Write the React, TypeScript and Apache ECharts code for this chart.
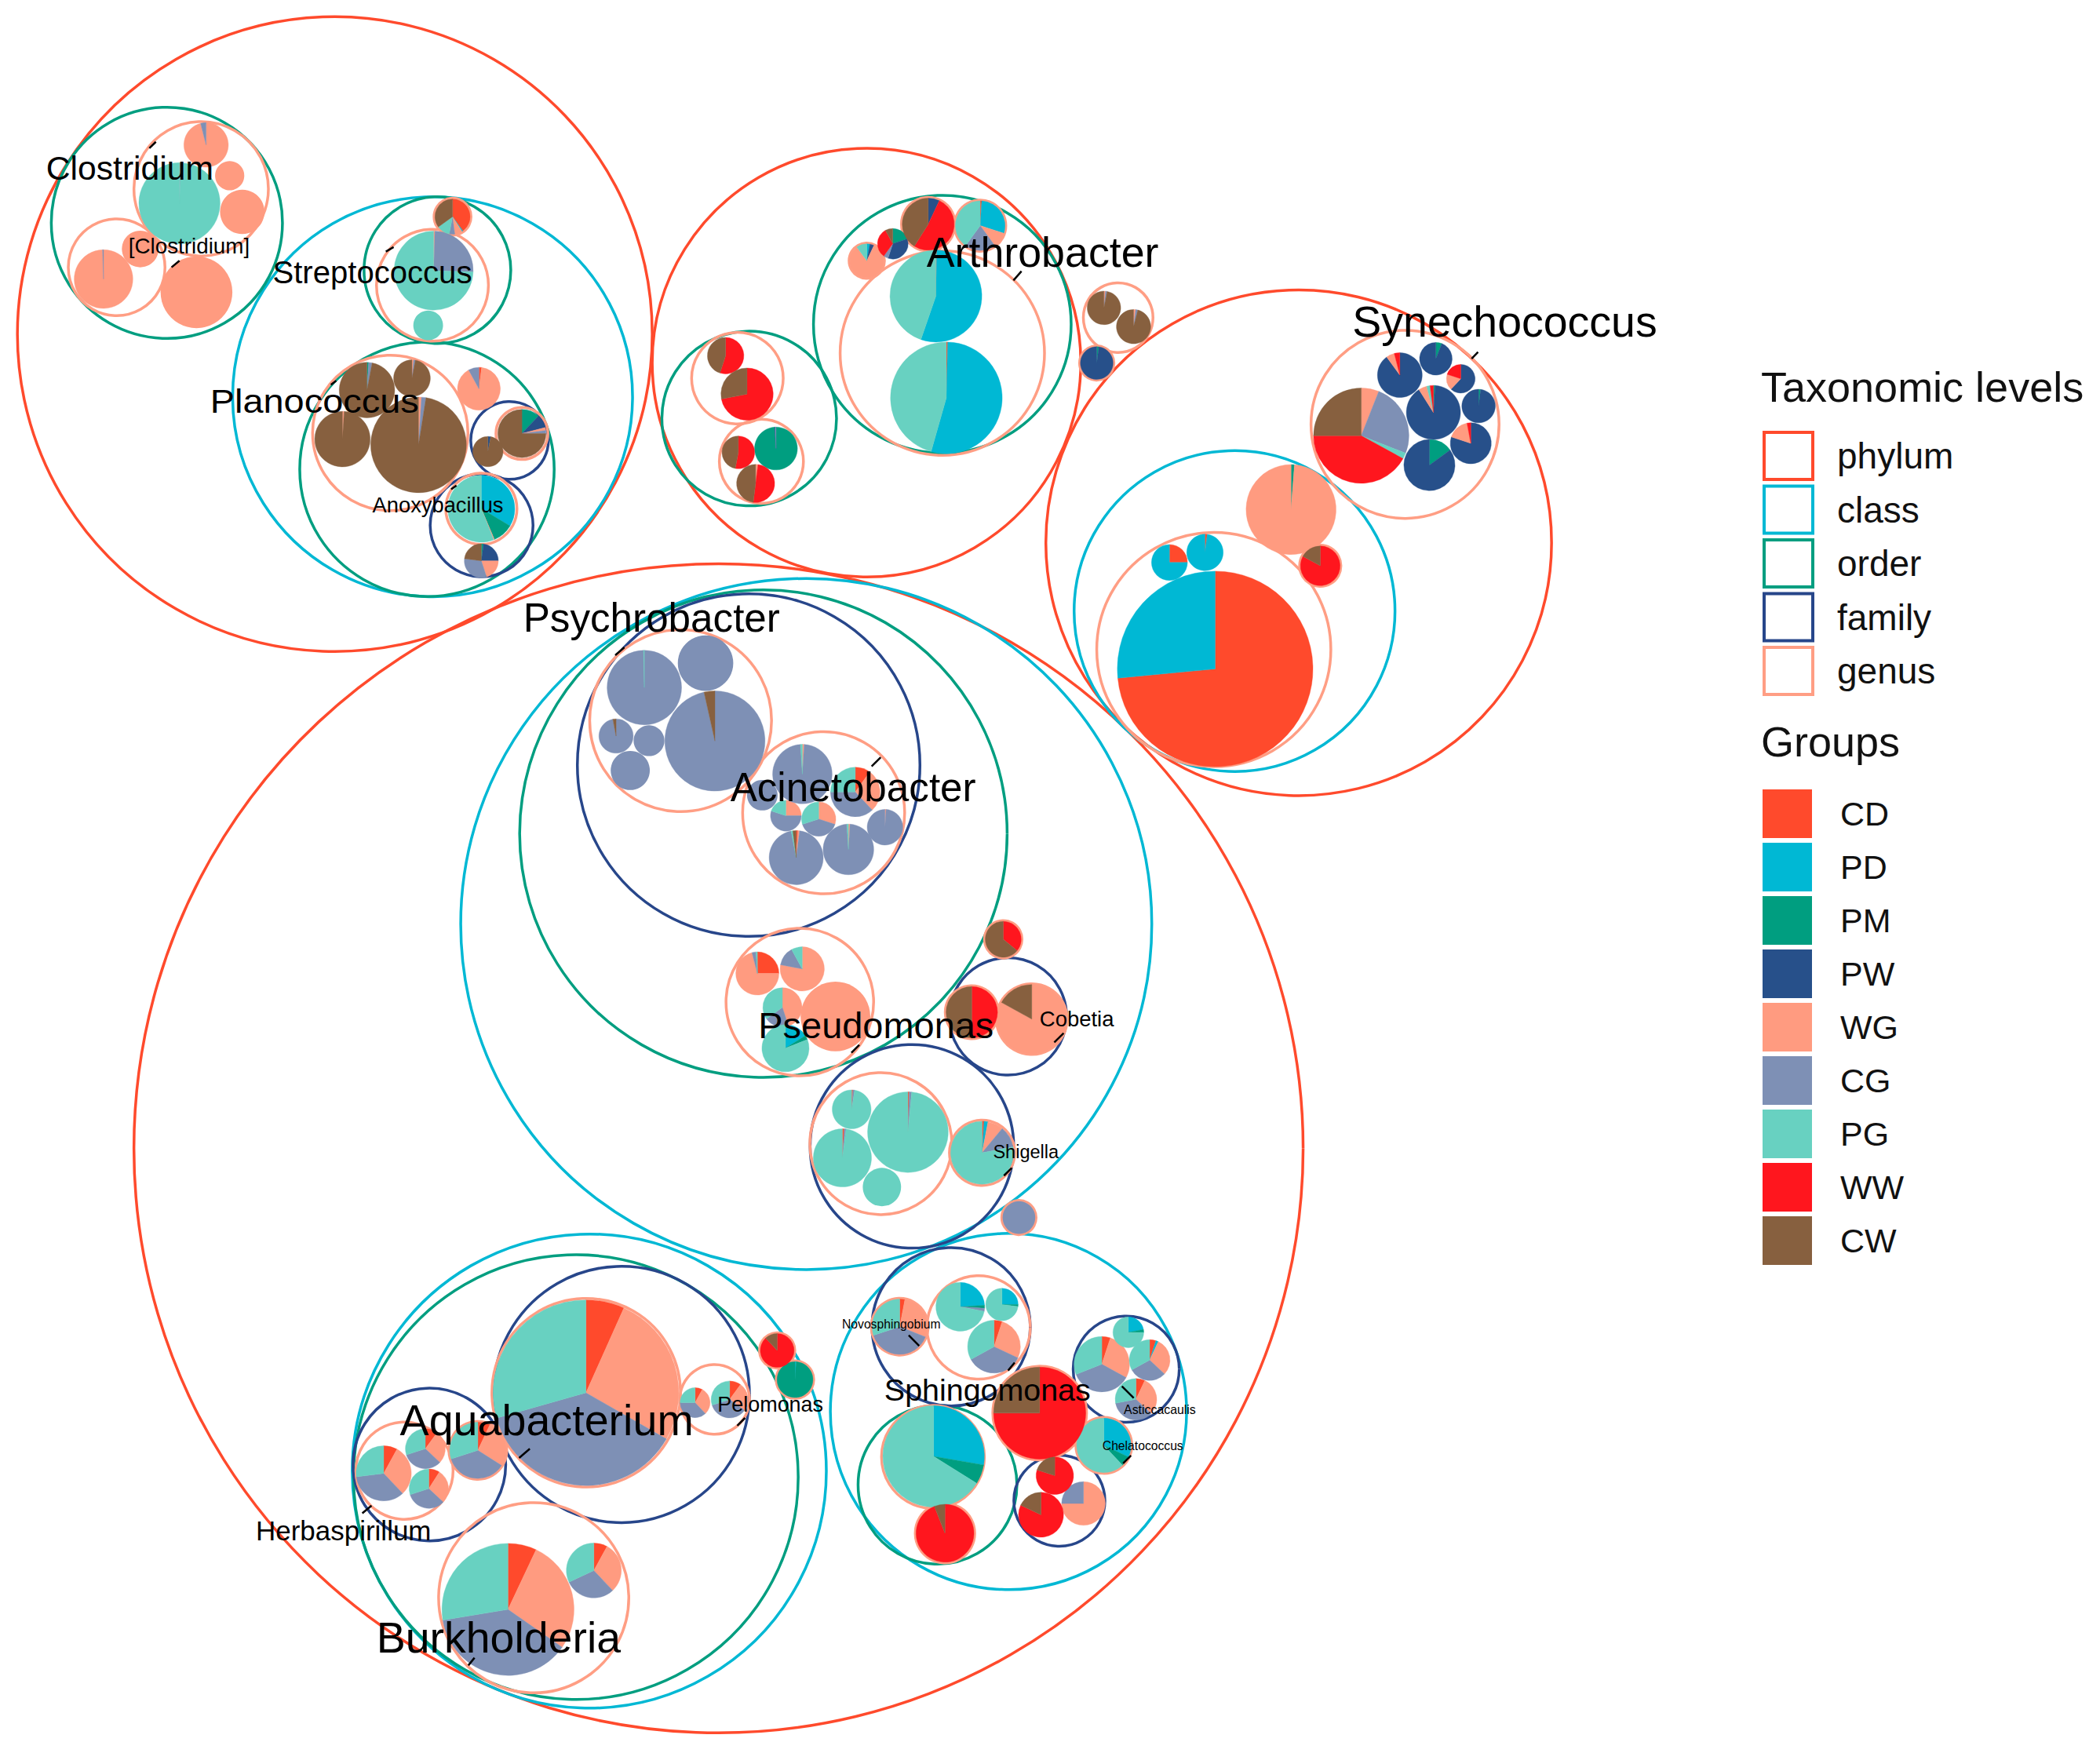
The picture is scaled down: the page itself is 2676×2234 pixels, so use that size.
import React, { useEffect, useRef } from "react";
import * as echarts from "echarts";

const W = 2676;
const H = 2234;
const X_MAX = 1568;
const Y_MAX = 1309;
const FONT = "'Liberation Sans', Arial, Helvetica, sans-serif";

// ---------- groups & taxonomic levels ----------
const groups = ["CD", "PD", "PM", "PW", "WG", "CG", "PG", "WW", "CW"];
const groupColors = ["#FF4A2C", "#00B8D4", "#009E80", "#27508A", "#FF9B80", "#7E90B5", "#68D1C1", "#FF161E", "#87603F"];
const levels = ["phylum", "class", "order", "family", "genus"];
const levelColors = ["#FF4A2C", "#00B8D4", "#009E80", "#27468A", "#FF9E84"];

// ---------- circles [x, y, r] in chart units ----------
const phylumCircles = [
  [250, 249.5, 237],
  [647, 270, 160],
  [969.7, 405.3, 188.8],
  [536.5, 857.5, 436.5],
];
const classCircles = [
  [323, 296.3, 149.3],
  [921.8, 456.3, 119.8],
  [602, 690, 258],
  [440, 1098.5, 177],
  [753, 1054, 133],
];
const orderCircles = [
  [124.6, 166.4, 86.3],
  [326.6, 201.7, 54.8],
  [318.8, 350.4, 95],
  [559.4, 312.5, 65.2],
  [703.6, 242.1, 96.2],
  [570, 622.5, 182],
  [430, 1103, 166],
  [700, 1108.7, 59.3],
];
const familyCircles = [
  [380.5, 328.9, 29],
  [359.6, 392.3, 38.4],
  [559, 571.3, 127.9],
  [752.6, 759, 43.8],
  [680.9, 856, 76],
  [463.9, 1041.3, 95.7],
  [320.6, 1093.6, 57],
  [710.2, 990.7, 59.1],
  [791, 1120.6, 34],
  [840.9, 1022.4, 39.6],
];
const genusCircles = [
  [150.2, 141.0, 50.2],
  [87.1, 199.6, 36.1],
  [322.9, 213.0, 41.8],
  [291.4, 323.3, 58],
  [389.7, 323.7, 19.4],
  [359.4, 379.9, 26.6],
  [550.6, 282.4, 34.2],
  [568.5, 344.5, 31.4],
  [703.6, 263.7, 76.3],
  [834.9, 237.2, 26],
  [906.3, 485, 87.4],
  [1049.1, 316.9, 70.2],
  [508.2, 538.1, 67.9],
  [615, 606.9, 60.5],
  [597.2, 748.3, 55.1],
  [657.7, 854, 53],
  [733.3, 860.8, 24.4],
  [437.7, 1040, 70.4],
  [533.6, 1045, 26],
  [302, 1098.2, 36.3],
  [398.5, 1193.1, 71],
  [696.6, 1087.9, 38.4],
  [730.7, 991.2, 38.6],
  [337.9, 161.8, 13.8],
  [985.8, 422.5, 15.4],
  [818.9, 271.1, 12.8],
  [693.1, 167.4, 20.0],
  [731.9, 168.5, 19.1],
  [647.2, 194.7, 13.2],
  [725.6, 755.9, 19.8],
  [770.4, 761.0, 26.4],
  [749.1, 701.4, 14.0],
  [760.8, 909.2, 12.8],
  [580.3, 1008.4, 13.2],
  [593.6, 1030.2, 14.0],
  [356.8, 1083.0, 21.6],
  [705.6, 1144.9, 22.2],
  [776.3, 1055.2, 35.0],
  [824.2, 1079.3, 20.9],
  [671.8, 990.7, 21.2],
];

// ---------- pies [x, y, r, shares by group] ----------
const piesFirmicutes = [
  [134.0, 151.8, 30.3, { CG: 0.005, PG: 0.995 }],
  [153.9, 108.2, 16.6, { WG: 0.96, CG: 0.04 }],
  [171.5, 131.2, 10.9, { WG: 1 }],
  [180.9, 158.2, 16.6, { WG: 1 }],
  [77.3, 208.4, 21.9, { WG: 0.995, CG: 0.005 }],
  [104.7, 185.9, 13.7, { WG: 1 }],
  [146.7, 218.2, 26.8, { WG: 1 }],
  [323.8, 202.1, 29.5, { WG: 0.005, CG: 0.25, PG: 0.745 }],
  [319.7, 243.0, 11.1, { PG: 1 }],
  [337.9, 161.8, 13.1, { CD: 0.4, PD: 0.01, WG: 0.07, CG: 0.05, PG: 0.12, CW: 0.35 }],
  [312.5, 332.2, 35.7, { WG: 0.01, CG: 0.015, CW: 0.975 }],
  [255.7, 327.9, 20.7, { WG: 0.01, CW: 0.99 }],
  [274.0, 291.3, 20.7, { PM: 0.01, CG: 0.02, CW: 0.97 }],
  [307.6, 282.4, 13.7, { WG: 0.015, CG: 0.015, CW: 0.97 }],
  [357.6, 290.3, 16.0, { CD: 0.02, WG: 0.9, CG: 0.08 }],
  [389.7, 323.7, 18.0, { PM: 0.12, PW: 0.09, WG: 0.02, CG: 0.02, CW: 0.75 }],
  [364.3, 337.2, 11.3, { PW: 0.03, CW: 0.97 }],
  [359.4, 379.9, 25.0, { PD: 0.336, PM: 0.1, WG: 0.004, PG: 0.56 }],
  [359.4, 418.8, 12.7, { PM: 0.02, PW: 0.23, WG: 0.2, CG: 0.32, CW: 0.23 }],
];
const piesActinobacteria = [
  [541.8, 265.6, 13.6, { WW: 0.55, CW: 0.45 }],
  [557.8, 294.3, 19.5, { WW: 0.72, CW: 0.28 }],
  [579.4, 334.9, 16.0, { PM: 0.99, PW: 0.005, CG: 0.005 }],
  [551.3, 337.8, 12.2, { WW: 0.53, CW: 0.47 }],
  [564.2, 361.0, 14.2, { WG: 0.02, WW: 0.5, CW: 0.48 }],
  [698.8, 221.1, 34.3, { CD: 0.003, PD: 0.55, PG: 0.447 }],
  [706.6, 297.1, 41.7, { CD: 0.004, PD: 0.54, PG: 0.456 }],
  [693.1, 167.4, 19.4, { PW: 0.07, WW: 0.52, CW: 0.41 }],
  [731.9, 168.5, 18.5, { CD: 0.01, PD: 0.29, WG: 0.1, CG: 0.2, PG: 0.4 }],
  [666.6, 182.0, 11.4, { PM: 0.2, PW: 0.35, CG: 0.05, WW: 0.32, CW: 0.08 }],
  [647.2, 194.7, 12.6, { PD: 0.03, PW: 0.04, WG: 0.83, PG: 0.1 }],
  [824.3, 229.9, 12.5, { WG: 0.015, CG: 0.015, CW: 0.97 }],
  [846.4, 243.9, 12.8, { WG: 0.02, CG: 0.02, CW: 0.96 }],
  [818.9, 271.1, 12.2, { PM: 0.02, PW: 0.98 }],
];
const piesCyanobacteria = [
  [907.3, 499.5, 73.0, { CD: 0.735, PD: 0.265 }],
  [873.2, 420.0, 13.4, { CD: 0.25, PD: 0.75 }],
  [899.7, 412.5, 13.6, { CD: 0.02, PD: 0.98 }],
  [964.0, 380.5, 33.6, { PM: 0.012, WG: 0.988 }],
  [985.8, 422.5, 14.8, { WW: 0.83, CW: 0.17 }],
  [1016.4, 325.3, 35.6, { WG: 0.06, CG: 0.25, PG: 0.02, WW: 0.42, CW: 0.25 }],
  [1045.2, 280.1, 16.7, { PW: 0.9, WG: 0.06, WW: 0.04 }],
  [1072.1, 267.9, 12.2, { PM: 0.06, PW: 0.94 }],
  [1090.7, 282.8, 10.7, { PW: 0.62, WG: 0.18, WW: 0.2 }],
  [1070.3, 308.0, 20.2, { PM: 0.01, PW: 0.9, WG: 0.05, PG: 0.02, WW: 0.02 }],
  [1104.0, 303.2, 12.5, { PM: 0.02, PW: 0.98 }],
  [1098.2, 331.0, 15.3, { PW: 0.8, WG: 0.17, WW: 0.03 }],
  [1067.3, 347.3, 19.1, { PM: 0.15, PW: 0.85 }],
];
const piesGamma = [
  [533.8, 553.3, 37.4, { CG: 0.965, CW: 0.035 }],
  [481.1, 513.4, 27.8, { CG: 0.997, PG: 0.003 }],
  [526.8, 495.2, 20.7, { CG: 1 }],
  [460.0, 549.6, 12.8, { CG: 0.97, CW: 0.03 }],
  [484.6, 553.1, 11.5, { CG: 1 }],
  [470.6, 575.3, 14.6, { CG: 1 }],
  [599.1, 578.0, 22.2, { WG: 0.01, CG: 0.98, PG: 0.01 }],
  [638.6, 591.4, 18.5, { CD: 0.1, WG: 0.28, CG: 0.37, PG: 0.25 }],
  [569.2, 593.8, 11.4, { CG: 1 }],
  [586.8, 609.1, 11.5, { WG: 0.25, CG: 0.55, PG: 0.2 }],
  [611.3, 611.6, 12.8, { WG: 0.3, CG: 0.4, PG: 0.3 }],
  [594.5, 640.4, 20.2, { CD: 0.01, WG: 0.01, CG: 0.95, PG: 0.01, CW: 0.02 }],
  [633.5, 634.3, 18.9, { WG: 0.01, CG: 0.98, PG: 0.01 }],
  [660.8, 617.7, 13.3, { WG: 0.01, CG: 0.99 }],
  [565.5, 726.9, 16.1, { CD: 0.25, WG: 0.71, CG: 0.03, PG: 0.01 }],
  [599.0, 723.5, 16.5, { WG: 0.78, CG: 0.14, PG: 0.08 }],
  [623.8, 759.0, 26.0, { WG: 1 }],
  [584.2, 752.2, 14.6, { WG: 0.45, CG: 0.2, PG: 0.35 }],
  [586.5, 782.7, 17.6, { PD: 0.16, PM: 0.03, PG: 0.81 }],
  [725.6, 755.9, 19.2, { WW: 0.5, CW: 0.5 }],
  [770.4, 761.0, 25.8, { WG: 0.83, CW: 0.17 }],
  [749.1, 701.4, 13.4, { WW: 0.36, CW: 0.64 }],
  [677.9, 845.4, 30.1, { CD: 0.005, CG: 0.01, PG: 0.985 }],
  [635.9, 828.4, 14.5, { CD: 0.01, CG: 0.015, PG: 0.975 }],
  [629.0, 864.6, 21.7, { CD: 0.01, CG: 0.01, PG: 0.98 }],
  [658.5, 886.4, 14.3, { PG: 1 }],
  [733.3, 860.8, 23.5, { CD: 0.01, PD: 0.02, WG: 0.08, CG: 0.11, PG: 0.78 }],
  [760.8, 909.2, 12.2, { CG: 1 }],
];
const piesBeta = [
  [437.5, 1040.0, 69.3, { CD: 0.067, WG: 0.266, CG: 0.373, PG: 0.294 }],
  [519.0, 1047.4, 11.2, { CD: 0.08, WG: 0.3, CG: 0.37, PG: 0.25 }],
  [544.8, 1045.0, 13.8, { CD: 0.1, WG: 0.25, CG: 0.35, PG: 0.3 }],
  [286.5, 1100.2, 20.6, { CD: 0.08, WG: 0.3, CG: 0.35, PG: 0.27 }],
  [317.6, 1081.8, 14.9, { CD: 0.1, WG: 0.27, CG: 0.33, PG: 0.3 }],
  [320.2, 1111.6, 14.7, { CD: 0.09, WG: 0.28, CG: 0.33, PG: 0.3 }],
  [356.8, 1083.0, 21.0, { CD: 0.07, WG: 0.27, CG: 0.36, PG: 0.3 }],
  [379.3, 1201.8, 49.3, { CD: 0.07, WG: 0.277, CG: 0.377, PG: 0.276 }],
  [443.4, 1172.7, 20.5, { CD: 0.08, WG: 0.3, CG: 0.3, PG: 0.32 }],
  [580.3, 1008.4, 12.6, { WW: 0.88, CW: 0.12 }],
  [593.6, 1030.2, 13.4, { PD: 0.01, PM: 0.99 }],
];
const piesAlpha = [
  [671.8, 990.7, 20.6, { CD: 0.03, WG: 0.28, CG: 0.39, PG: 0.3 }],
  [717.0, 975.8, 18.2, { PD: 0.24, PM: 0.02, CG: 0.02, PG: 0.72 }],
  [748.1, 974.1, 12.1, { PD: 0.25, PM: 0.02, PG: 0.73 }],
  [742.2, 1005.6, 19.7, { CD: 0.05, WG: 0.27, CG: 0.35, PG: 0.33 }],
  [697.1, 1087.5, 37.9, { PD: 0.277, PM: 0.062, PG: 0.661 }],
  [705.6, 1144.9, 21.6, { WW: 0.94, CW: 0.06 }],
  [776.3, 1055.2, 34.4, { WW: 0.75, CW: 0.25 }],
  [787.6, 1101.9, 14.0, { WW: 0.8, CW: 0.2 }],
  [777.3, 1131.1, 16.8, { WW: 0.82, CW: 0.18 }],
  [809.0, 1122.7, 16.3, { WG: 0.75, CG: 0.25 }],
  [842.5, 994.9, 11.5, { PD: 0.22, PM: 0.03, PG: 0.75 }],
  [822.7, 1018.7, 20.7, { CD: 0.05, WG: 0.28, CG: 0.36, PG: 0.31 }],
  [858.4, 1015.6, 15.2, { CD: 0.05, PD: 0.02, WG: 0.3, CG: 0.3, PG: 0.33 }],
  [848.2, 1044.9, 15.5, { CD: 0.07, WG: 0.3, CG: 0.35, PG: 0.28 }],
  [824.2, 1079.3, 20.3, { PD: 0.32, PM: 0.06, PG: 0.62 }],
];

// ---------- genus labels ----------
const labelNames = [
  "Clostridium", "[Clostridium]", "Streptococcus", "Planococcus", "Anoxybacillus",
  "Arthrobacter", "Synechococcus", "Psychrobacter", "Acinetobacter", "Pseudomonas",
  "Cobetia", "Shigella", "Aquabacterium", "Pelomonas", "Herbaspirillum",
  "Burkholderia", "Sphingomonas", "Novosphingobium", "Asticcacaulis", "Chelatococcus",
];
const labelX = [96.9, 141.2, 278, 234.8, 327, 778.5, 1123.5, 486.5, 637, 654.1, 804, 766, 408.2, 575.2, 256.5, 372.3, 737.3, 665.5, 866, 853.3];
const labelY = [125.4, 183.6, 203.3, 299.5, 376.9, 187.9, 240.1, 461.5, 587.9, 765.6, 760.8, 860.4, 1060.5, 1049, 1142.6, 1223, 1037.5, 988.7, 1052.7, 1079.5];
const labelSize = [25, 16.3, 23.5, 25, 16, 31.5, 32.5, 30, 30, 27.5, 16.1, 13.8, 32.6, 15.8, 20.5, 32.5, 23.1, 9.2, 9.3, 9.2];
const labelStretch = [1, 1, 1, 1.1, 1, 1, 1, 1, 1, 1, 1, 1, 1, 1, 1, 1, 1, 1, 1, 1];
const labelTicks = [
  [111.5, 110.7, 116.4, 105.9],
  [128.1, 199.6, 134.0, 194.7],
  [288.1, 187.9, 293.9, 184.5],
  [247.1, 287.3, 251.0, 284.4],
  [336.9, 365.4, 340.8, 362.5],
  [756.7, 209.4, 762.7, 202.5],
  [1098.8, 267.8, 1103.6, 262.9],
  [459.4, 489.3, 466.2, 483.4],
  [650.8, 572.3, 657.6, 565.5],
  [635.7, 786.1, 641.6, 780.3],
  [787.2, 778.3, 794.2, 771.5],
  [749.6, 877.9, 755.5, 872.1],
  [387.6, 1088.7, 395.6, 1081.8],
  [550.5, 1064.6, 556.3, 1058.8],
  [270.5, 1130.0, 277.4, 1124.3],
  [349.7, 1243.6, 354.3, 1237.9],
  [752.7, 1023.4, 757.6, 1017.5],
  [678.5, 997.0, 686.3, 1004.9],
  [837.7, 1035.1, 846.5, 1043.9],
  [838.6, 1092.7, 844.5, 1086.9],
];

const allPies: any[] = [
  ...piesFirmicutes, ...piesActinobacteria, ...piesCyanobacteria,
  ...piesGamma, ...piesBeta, ...piesAlpha,
];

function sectorsFor(g: string) {
  const out: number[][] = [];
  allPies.forEach(([x, y, r, s]: any) => {
    const total = groups.reduce((a, k) => a + (s[k] || 0), 0);
    let cum = 0;
    groups.forEach((k) => {
      const v = (s[k] || 0) / total;
      if (k === g && v > 0) out.push([x, y, r, cum, cum + v]);
      cum += v;
    });
  });
  return out;
}

function circleSeries(name: string, color: string, data: number[][]) {
  return {
    type: "custom",
    name,
    coordinateSystem: "cartesian2d",
    data,
    encode: { x: 0, y: 1 },
    itemStyle: { color },
    silent: true,
    clip: false,
    z: 2,
    renderItem: (params: any, api: any) => {
      const c = api.coord([api.value(0), api.value(1)]);
      const r = api.size([api.value(2), 0])[0];
      return {
        type: "circle",
        shape: { cx: c[0], cy: c[1], r },
        style: { fill: "none", stroke: color, lineWidth: 3.5 },
      };
    },
  };
}

function groupSeries(name: string, color: string) {
  return {
    type: "custom",
    name,
    coordinateSystem: "cartesian2d",
    data: sectorsFor(name),
    encode: { x: 0, y: 1 },
    itemStyle: { color },
    silent: true,
    clip: false,
    z: 3,
    renderItem: (params: any, api: any) => {
      const c = api.coord([api.value(0), api.value(1)]);
      const r = api.size([api.value(2), 0])[0];
      const s = api.value(3);
      const e = api.value(4);
      if (e - s > 0.9999) {
        return { type: "circle", shape: { cx: c[0], cy: c[1], r }, style: { fill: color } };
      }
      return {
        type: "sector",
        shape: {
          cx: c[0], cy: c[1], r0: 0, r,
          startAngle: -Math.PI / 2 + 2 * Math.PI * s,
          endAngle: -Math.PI / 2 + 2 * Math.PI * e,
          clockwise: true,
        },
        style: { fill: color, stroke: color, lineWidth: 0.4 },
      };
    },
  };
}

const labelSeries = {
  type: "custom",
  name: "labels",
  coordinateSystem: "cartesian2d",
  data: labelX.map((x, i) => [x, labelY[i]]),
  encode: { x: 0, y: 1 },
  silent: true,
  clip: false,
  z: 5,
  renderItem: (params: any, api: any) => {
    const i = params.dataIndex;
    const c = api.coord([api.value(0), api.value(1)]);
    const k = api.size([1, 0])[0];
    return {
      type: "text",
      x: c[0],
      y: c[1],
      scaleX: labelStretch[i],
      style: {
        text: labelNames[i],
        fontSize: labelSize[i] * k,
        fontFamily: FONT,
        fill: "#000",
        align: "center",
        verticalAlign: "middle",
      },
    };
  },
};

const tickSeries = {
  type: "custom",
  name: "ticks",
  coordinateSystem: "cartesian2d",
  data: labelTicks,
  encode: { x: 0, y: 1 },
  silent: true,
  clip: false,
  z: 5,
  renderItem: (params: any, api: any) => {
    const a = api.coord([api.value(0), api.value(1)]);
    const b = api.coord([api.value(2), api.value(3)]);
    return {
      type: "line",
      shape: { x1: a[0], y1: a[1], x2: b[0], y2: b[1] },
      style: { stroke: "#000", lineWidth: 2.5 },
    };
  },
};

const option: any = {
  animation: false,
  backgroundColor: "#fff",
  grid: { left: 0, right: 0, top: 0, bottom: 0 },
  xAxis: { type: "value", min: 0, max: X_MAX, show: false },
  yAxis: { type: "value", min: 0, max: Y_MAX, inverse: true, show: false },
  title: [
    {
      text: "Taxonomic levels",
      left: 2244,
      top: 466,
      padding: 0,
      textStyle: { fontSize: 54, fontWeight: "normal", color: "#111", fontFamily: FONT },
    },
    {
      text: "Groups",
      left: 2244,
      top: 918,
      padding: 0,
      textStyle: { fontSize: 54, fontWeight: "normal", color: "#111", fontFamily: FONT },
    },
  ],
  legend: [
    {
      data: levels.map((n, i) => ({
        name: n,
        icon: "rect",
        itemStyle: { color: "#fff", borderColor: levelColors[i], borderWidth: 4 },
      })),
      orient: "vertical",
      left: 2246,
      top: 549,
      padding: 0,
      itemWidth: 62,
      itemHeight: 60,
      itemGap: 4.5,
      selectedMode: false,
      textStyle: { fontSize: 46, color: "#111", fontFamily: FONT, padding: [0, 0, 0, 26] },
    },
    {
      data: groups.map((n) => ({ name: n, icon: "rect" })),
      orient: "vertical",
      left: 2246,
      top: 1006,
      padding: 0,
      itemWidth: 63,
      itemHeight: 62,
      itemGap: 6,
      selectedMode: false,
      textStyle: { fontSize: 43, color: "#111", fontFamily: FONT, padding: [0, 0, 0, 31] },
    },
  ],
  series: [
    circleSeries("phylum", levelColors[0], phylumCircles),
    circleSeries("class", levelColors[1], classCircles),
    circleSeries("order", levelColors[2], orderCircles),
    circleSeries("family", levelColors[3], familyCircles),
    circleSeries("genus", levelColors[4], genusCircles),
    ...groups.map((g, i) => groupSeries(g, groupColors[i])),
    tickSeries,
    labelSeries,
  ],
};

export default function App() {
  const ref = useRef<HTMLDivElement>(null);
  useEffect(() => {
    const chart = echarts.init(ref.current as HTMLDivElement, null, { renderer: "svg", width: W, height: H });
    chart.setOption(option);
    return () => chart.dispose();
  }, []);
  return (
    <div
      ref={ref}
      style={{ position: "fixed", left: 0, top: 0, width: W, height: H, background: "#fff" }}
    />
  );
}
